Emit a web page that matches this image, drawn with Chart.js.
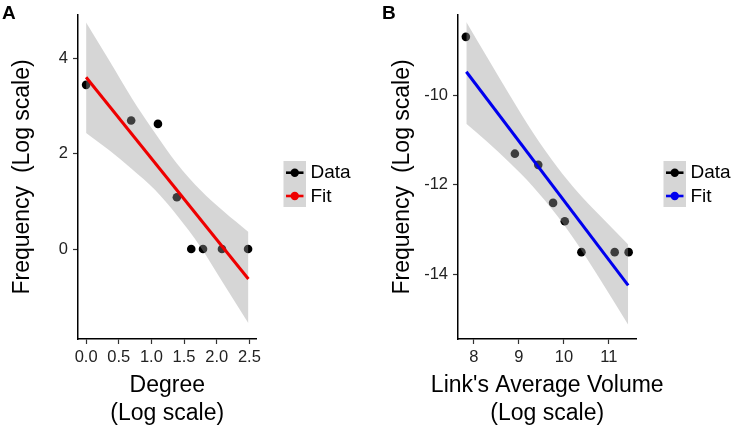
<!DOCTYPE html>
<html><head><meta charset="utf-8">
<script src="https://cdn.jsdelivr.net/npm/chart.js@4.4.1/dist/chart.umd.min.js"></script>
<style>
html,body{margin:0;padding:0;background:#fff;width:733px;height:426px;overflow:hidden;}
canvas{position:absolute;top:0;}
#cA{left:0;} #cB{left:380px;}
</style></head><body>
<canvas id="cA" width="353" height="426"></canvas>
<canvas id="cB" width="353" height="426"></canvas>
<script>
// ---------- Panel A data ----------
const degreeX = [0, 0.69, 1.10, 1.39, 1.61, 1.79, 2.08, 2.48];
const degreeFreq = [3.45, 2.70, 2.63, 1.09, 0, 0, 0, 0];
const fitAX = [0, 2.485];
const fitAY = [3.61, -0.63];
const bandAX = [0, 0.35, 0.7, 1.05, 1.39, 1.75, 2.1, 2.485];
const bandAUpper = [4.76, 3.97, 3.17, 2.45, 1.80, 1.24, 0.80, 0.36];
const bandALower = [2.44, 2.08, 1.68, 1.25, 0.71, 0.05, -0.72, -1.56];
const xTicksA = [0, 0.5, 1, 1.5, 2, 2.5];
const xTickLabelsA = ['0.0', '0.5', '1.0', '1.5', '2.0', '2.5'];
const yTicksA = [0, 2, 4];
const yTickLabelsA = ['0', '2', '4'];

// ---------- Panel B data ----------
const volumeX = [7.82, 8.91, 9.43, 9.76, 10.02, 10.39, 11.13, 11.44];
const volumeFreq = [-8.70, -11.31, -11.56, -12.41, -12.82, -13.51, -13.51, -13.51];
const fitBX = [7.83, 11.43];
const fitBY = [-9.48, -14.25];
const bandBX = [7.83, 8.3, 8.8, 9.3, 9.86, 10.3, 10.8, 11.43];
const bandBUpper = [-8.37, -9.17, -10.01, -10.82, -11.62, -12.16, -12.69, -13.34];
const bandBLower = [-10.64, -11.05, -11.52, -12.03, -12.71, -13.33, -14.11, -15.13];
const xTicksB = [8, 9, 10, 11];
const xTickLabelsB = ['8', '9', '10', '11'];
const yTicksB = [-14, -12, -10];
const yTickLabelsB = ['-14', '-12', '-10'];

const legendLabels = ['Data', 'Fit'];
const FONT = '"Liberation Sans", Arial, Helvetica, sans-serif';

function pts(xs, ys) { return xs.map((x, i) => ({x: x, y: ys[i]})); }

function overlayPlugin(panelLabel, fitColor, xTitle) {
  return {
    id: 'overlay' + panelLabel,
    afterDraw(chart) {
      const ctx = chart.ctx;
      const ca = chart.chartArea;
      ctx.save();
      // panel label
      ctx.fillStyle = '#000';
      ctx.font = 'bold 19px ' + FONT;
      ctx.textAlign = 'left';
      ctx.textBaseline = 'alphabetic';
      ctx.fillText(panelLabel, 2, 18.5);
      // x-axis title (two lines, centred under the panel, allowed to overflow)
      ctx.font = '23px ' + FONT;
      ctx.textAlign = 'center';
      ctx.textBaseline = 'middle';
      const cx = (ca.left + ca.right) / 2;
      ctx.fillText(xTitle[0], cx, 385.5);
      ctx.fillText(xTitle[1], cx, 414);
      // legend keys
      ctx.textAlign = 'left';
      const kx = 283.5, kw = 22.5, ky = 161, kh = 46;
      ctx.fillStyle = 'rgb(214,214,214)';
      ctx.fillRect(kx, ky, kw, kh);
      const rows = [172.7, 196];
      const cols = ['#000000', fitColor];
      rows.forEach((ry, i) => {
        ctx.strokeStyle = cols[i];
        ctx.lineWidth = 2.6;
        ctx.beginPath();
        ctx.moveTo(kx + 2.5, ry);
        ctx.lineTo(kx + kw - 2.5, ry);
        ctx.stroke();
        ctx.fillStyle = cols[i];
        ctx.beginPath();
        ctx.arc(kx + kw / 2, ry, 4.2, 0, Math.PI * 2);
        ctx.fill();
        ctx.fillStyle = '#000';
        ctx.font = '19px ' + FONT;
        ctx.textBaseline = 'middle';
        ctx.fillText(legendLabels[i], 310.5, ry + 0.5);
      });
      ctx.restore();
    }
  };
}

function makeChart(id, o) {
  return new Chart(document.getElementById(id), {
    type: 'scatter',
    data: {
      datasets: [
        { data: pts(o.px, o.py), backgroundColor: '#000', borderWidth: 0, pointRadius: 4.3, order: 3 },
        { data: pts(o.bx, o.bu), showLine: true, borderWidth: 0, borderColor: 'rgba(0,0,0,0)', pointRadius: 0,
          cubicInterpolationMode: 'monotone', fill: '+1', backgroundColor: 'rgba(153,153,153,0.4)', order: 2 },
        { data: pts(o.bx, o.bl), showLine: true, borderWidth: 0, borderColor: 'rgba(0,0,0,0)', pointRadius: 0,
          cubicInterpolationMode: 'monotone', fill: false, order: 2 },
        { data: pts(o.fx, o.fy), showLine: true, borderWidth: 3, borderColor: o.fitColor, pointRadius: 0, fill: false, order: 0 }
      ]
    },
    options: {
      responsive: false,
      devicePixelRatio: 1,
      animation: false,
      events: [],
      layout: { padding: { left: 0, top: 12, right: 96.5, bottom: 0 } },
      plugins: { legend: { display: false }, tooltip: { enabled: false } },
      scales: {
        x: {
          type: 'linear', min: o.xmin, max: o.xmax,
          afterBuildTicks: s => { s.ticks = o.xt.map(v => ({value: v})); },
          afterFit: s => { s.height = 87; },
          ticks: { callback: (v, i) => o.xtl[i], font: { size: 16.5, family: FONT }, color: '#222', padding: 4, maxRotation: 0, autoSkip: false },
          grid: { drawOnChartArea: false, drawTicks: true, tickLength: 5, tickColor: '#333', tickWidth: 1.2 },
          border: { display: true, color: '#000', width: 1.5 },
          title: { display: false }
        },
        y: {
          type: 'linear', min: o.ymin, max: o.ymax,
          afterBuildTicks: s => { s.ticks = o.yt.map(v => ({value: v})); },
          afterFit: s => { s.width = 78; },
          ticks: { callback: (v, i) => o.ytl[i], font: { size: 16.5, family: FONT }, color: '#222', padding: 5, autoSkip: false },
          grid: { drawOnChartArea: false, drawTicks: true, tickLength: 5, tickColor: '#333', tickWidth: 1.2 },
          border: { display: true, color: '#000', width: 1.5 },
          title: { display: true, text: 'Frequency  (Log scale)', color: '#000', font: { size: 23, family: FONT, lineHeight: 1.2 }, padding: { top: 8.5, bottom: 0 } }
        }
      }
    },
    plugins: [overlayPlugin(o.label, o.fitColor, o.xtitle)]
  });
}

makeChart('cA', {
  px: degreeX, py: degreeFreq, bx: bandAX, bu: bandAUpper, bl: bandALower, fx: fitAX, fy: fitAY,
  fitColor: '#EE0000', xmin: -0.124, xmax: 2.609, ymin: -1.89, ymax: 4.92,
  xt: xTicksA, xtl: xTickLabelsA, yt: yTicksA, ytl: yTickLabelsA,
  xtitle: ['Degree', '(Log scale)'], label: 'A'
});
makeChart('cB', {
  px: volumeX, py: volumeFreq, bx: bandBX, bu: bandBUpper, bl: bandBLower, fx: fitBX, fy: fitBY,
  fitColor: '#0000EE', xmin: 7.645, xmax: 11.615, ymin: -15.45, ymax: -8.21,
  xt: xTicksB, xtl: xTickLabelsB, yt: yTicksB, ytl: yTickLabelsB,
  xtitle: ["Link's Average Volume", '(Log scale)'], label: 'B'
});
</script>
</body></html>
